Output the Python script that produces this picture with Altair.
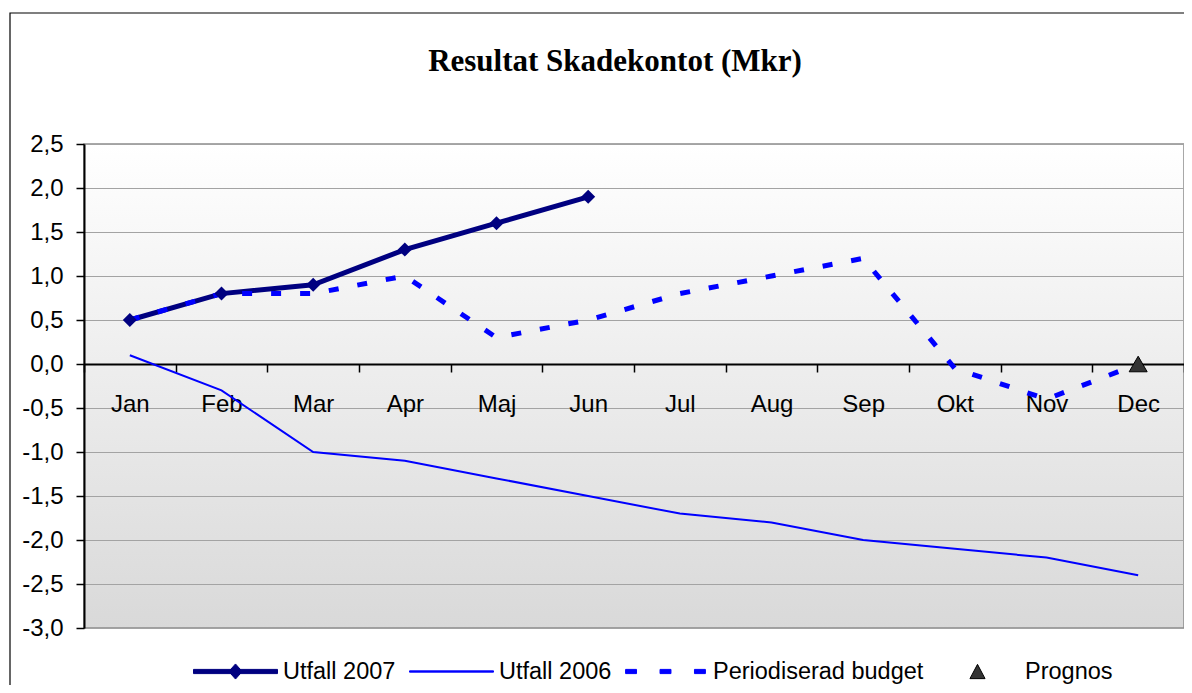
import altair as alt
import pandas as pd

# ---------------- data ----------------
months = ["Jan", "Feb", "Mar", "Apr", "Maj", "Jun", "Jul", "Aug", "Sep", "Okt", "Nov", "Dec"]
utfall_2007 = [0.5, 0.8, 0.9, 1.3, 1.6, 1.9]
utfall_2006 = [0.1, -0.3, -1.0, -1.1, -1.3, -1.5, -1.7, -1.8, -2.0, -2.1, -2.2, -2.4]
budget = [0.5, 0.8, 0.8, 1.0, 0.3, 0.5, 0.8, 1.0, 1.2, -0.05, -0.4, 0.0]
prognos_months = ["Dec"]
prognos = [0.0]
series = ["Utfall 2007", "Utfall 2006", "Periodiserad budget", "Prognos"]
y_ticks = [-3.0, -2.5, -2.0, -1.5, -1.0, -0.5, 0.0, 0.5, 1.0, 1.5, 2.0, 2.5]
title_text = "Resultat Skadekontot (Mkr)"

# ---------------- styles ----------------
NAVY = "#000080"
BLUE = "#0000ff"
TRI = "#333333"
W, H = 1100, 484
Y_MIN, Y_MAX = -3.0, 2.5
ZERO_FROM_TOP = (Y_MAX - 0) / (Y_MAX - Y_MIN) * H
FONT = "Liberation Sans"

df07 = pd.DataFrame({"m": months[:len(utfall_2007)], "v": utfall_2007})
df06 = pd.DataFrame({"m": months, "v": utfall_2006})
dfb = pd.DataFrame({"m": months, "v": budget})
dfp = pd.DataFrame({"m": prognos_months, "v": prognos})
dfleg = pd.DataFrame({"m": [months[0]] * len(series), "v": [0.0] * len(series), "s": series})
dft = pd.DataFrame({"t": [title_text]})

x_axis = alt.Axis(
    title=None, orient="bottom", offset=-(H - ZERO_FROM_TOP),
    labelFont=FONT, labelFontSize=24, labelColor="black", labelAngle=0,
    labelPadding=20, domainColor="black", domainWidth=2,
    tickColor="black", tickWidth=1.5, tickSize=8, tickBand="extent", grid=False,
)
y_axis = alt.Axis(
    title=None, values=y_ticks,
    labelExpr="(datum.value < 0 ? '-' : '') + replace(format(abs(datum.value), '.1f'), '.', ',')",
    labelFont=FONT, labelFontSize=24, labelColor="black", labelPadding=13,
    domainColor="black", domainWidth=2, tickColor="black", tickWidth=1.5, tickSize=8,
    grid=True, gridColor="#a3a3a3", gridWidth=1,
)


def X():
    return alt.X("m:N", sort=months,
                 scale=alt.Scale(type="band", domain=months, paddingInner=0, paddingOuter=0),
                 axis=x_axis, bandPosition=0.5)


def Y():
    return alt.Y("v:Q", scale=alt.Scale(domain=[Y_MIN, Y_MAX], nice=False, zero=False), axis=y_axis)


frame = alt.Chart(dft).mark_rect(fill="transparent", stroke="black", strokeWidth=1.2).encode(
    x=alt.value(-74), y=alt.value(-131), x2=alt.value(W + 200), y2=alt.value(H + 200)
)

title = alt.Chart(dft).mark_text(
    font="Liberation Serif", fontSize=31, fontWeight="bold", align="center",
    baseline="alphabetic", color="black"
).encode(text="t:N", x=alt.value(531), y=alt.value(-73))

line07 = alt.Chart(df07).mark_line(color=NAVY, strokeWidth=5, strokeCap="round").encode(x=X(), y=Y())
line06 = alt.Chart(df06).mark_line(color=BLUE, strokeWidth=2).encode(x=X(), y=Y())
lineb = alt.Chart(dfb).mark_line(color=BLUE, strokeWidth=5, strokeDash=[10, 19], strokeCap="butt").encode(x=X(), y=Y())
pts07 = alt.Chart(df07).mark_point(shape="diamond", filled=True, size=196, color=NAVY, opacity=1).encode(x=X(), y=Y())
ptsp = alt.Chart(dfp).mark_point(shape="triangle-up", filled=True, size=324, fill=TRI, stroke="black",
                                 strokeWidth=1, opacity=1).encode(x=X(), y=Y())

# legend symbols as custom paths (unit space -1..1)
sym_paths = [
    "M-1,-0.05H1V0.05H-1Z M0,-0.18L0.16,0L0,0.18L-0.16,0Z",
    "M-1,-0.015H1V0.015H-1Z",
    "M-0.95,-0.05H-0.69V0.05H-0.95Z M-0.13,-0.05H0.13V0.05H-0.13Z M0.69,-0.05H0.95V0.05H0.69Z",
    "M0,-0.17L0.18,0.17L-0.18,0.17Z",
]
leg = alt.Legend(
    title=None, orient="none", legendX=109, legendY=485, direction="horizontal", columns=4,
    symbolSize=84 * 84, symbolOpacity=1, symbolStrokeWidth=1,
    labelFont=FONT, labelFontSize=23.5, labelColor="black", labelOffset=5, labelLimit=500,
    columnPadding=11,
)
legend_layer = alt.Chart(dfleg).mark_point(filled=True, opacity=0).encode(
    x=X(), y=Y(),
    fill=alt.Fill("s:N", scale=alt.Scale(domain=series, range=[NAVY, BLUE, BLUE, TRI]), legend=leg),
    stroke=alt.Stroke("s:N", scale=alt.Scale(domain=series, range=[NAVY, BLUE, BLUE, "black"]), legend=leg),
    shape=alt.Shape("s:N", scale=alt.Scale(domain=series, range=sym_paths), legend=leg),
)

chart = alt.layer(frame, title, line07, line06, lineb, pts07, ptsp, legend_layer).properties(
    width=W, height=H,
    padding={"left": 76, "top": 136, "right": 0, "bottom": 57},
    autosize=alt.AutoSizeParams(type="none"),
    background="white",
).configure_view(
    stroke="#8c8c8c", strokeWidth=1.5,
    fill={"expr": "{gradient: 'linear', x1: 0, y1: 0, x2: 0, y2: 1, stops: [{offset: 0, color: '#ffffff'}, {offset: 1, color: '#d9d9d9'}]}"},
)

chart.save("out.html", embed_options={"renderer": "svg", "actions": False})
